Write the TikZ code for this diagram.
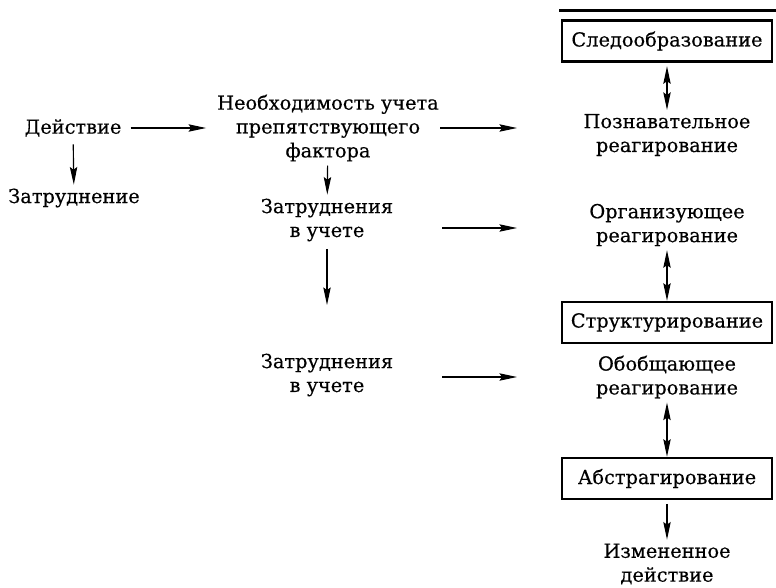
\documentclass[tikz,border=0pt]{standalone}
\usepackage{fontspec}
\setmainfont{DejaVu Serif}[FakeBold=0.4]
\usetikzlibrary{arrows.meta}

\begin{document}
\begin{tikzpicture}[>={Stealth[length=10pt,width=4.2pt,inset=1.5pt]}, line width=0.65pt]
            \useasboundingbox (0,0) rectangle (15.52,-11.74);
            \begin{scope}[every node/.style={align=center,inner sep=2pt,font=\fontsize{11}{13.6}\selectfont}]
                \node (deist) at (1.46,-2.56) {Действие};
                \node (zatr) at (1.48,-3.96) {Затруднение};
                \node (neobh) at (6.56,-2.56) {Необходимость учета\\препятствующего\\фактора};
                \node (zu1) at (6.54,-4.40) {Затруднения\\в учете};
                \node (zu2) at (6.54,-7.50) {Затруднения\\в учете};
                \node (pozn) at (13.34,-2.70) {Познавательное\\реагирование};
                \node (org) at (13.34,-4.50) {Организующее\\реагирование};
                \node (obob) at (13.34,-7.54) {Обобщающее\\реагирование};
                \node (izm) at (13.34,-11.28) {Измененное\\действие};
            \end{scope}
            \begin{scope}[every node/.style={draw,line width=1.4pt,minimum width=4.2cm,minimum height=0.82cm,inner sep=2pt,font=\fontsize{11}{13.6}\selectfont}]
                \node (sled) at (13.34,-0.82) {Следообразование};
                \node (struct) at (13.34,-6.45) {Структурирование};
                \node (abstr) at (13.34,-9.57) {Абстрагирование};
            \end{scope}
            \coordinate (r0) at (11.18,-0.21);
            \coordinate (r1) at (15.52,-0.21);
            \coordinate (a1s) at (8.80,-2.56);
            \coordinate (a1e) at (10.34,-2.56);
            \coordinate (a2s) at (8.84,-4.56);
            \coordinate (a2e) at (10.34,-4.56);
            \coordinate (a3s) at (8.84,-7.54);
            \coordinate (a3e) at (10.34,-7.54);
            \coordinate (zd) at (6.54,-6.10);
            \draw[line width=1.4pt] (r0) -- (r1);
            \draw[->,shorten <=3pt,shorten >=4pt] (deist) -- (neobh);
            \draw[->,shorten <=2pt] (deist) -- (zatr);
            \draw[->] (neobh) -- (zu1);
            \draw[->,shorten <=2pt] (zu1) -- (zd);
            \draw[->] (a1s) -- (a1e);
            \draw[->] (a2s) -- (a2e);
            \draw[->] (a3s) -- (a3e);
            \draw[<->,shorten <=2pt] (sled) -- (pozn);
            \draw[<->] (org) -- (struct);
            \draw[<->] (obob) -- (abstr);
            \draw[->,shorten <=2pt] (abstr) -- (izm);
        \end{tikzpicture}
\end{document}
